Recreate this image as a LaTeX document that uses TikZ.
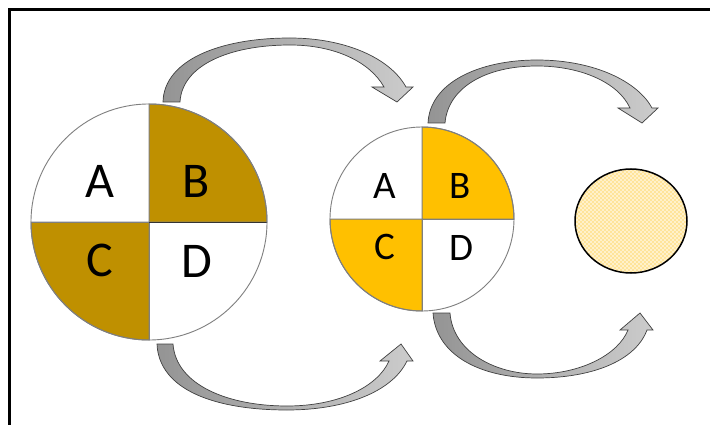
\documentclass[tikz,border=0pt]{standalone}
\usepackage{fontspec}
\setmainfont{Carlito}
\usetikzlibrary{shapes.geometric,patterns}
\definecolor{darkgold}{HTML}{BF9000}
\definecolor{gold}{HTML}{FFC000}
\definecolor{paleyel}{HTML}{FFE49A}
\definecolor{edgegray}{HTML}{7F7F7F}
\pgfdeclarepatternformonly{checkdots}{\pgfqpoint{-1pt}{-1pt}}{\pgfqpoint{5pt}{5pt}}{\pgfqpoint{4pt}{4pt}}{%
  \pgfpathcircle{\pgfqpoint{1pt}{1pt}}{0.95pt}%
  \pgfpathcircle{\pgfqpoint{3pt}{3pt}}{0.95pt}%
  \pgfusepath{fill}%
}
\tikzset{
  quad/.style={draw=edgegray, line width=1pt},
  blockarrow/.style={draw=black!75, line width=0.7pt, left color=black!42, right color=black!20},
  biglabel/.style={font=\fontsize{50}{50}\selectfont, inner sep=0pt},
  midlabel/.style={font=\fontsize{39}{39}\selectfont, inner sep=0pt},
  ringnode/.style={circle, draw=edgegray, line width=0.9pt, inner sep=0pt},
}
\begin{document}
\begin{tikzpicture}[x=1pt,y=-1pt]
\useasboundingbox (0,0) rectangle (710,425);
% frame
\draw[line width=2.2pt] (9.5,430) -- (9.5,9.5) -- (720,9.5);

% big circle quadrants
\coordinate (bc) at (149,222);
\fill[white] (bc) circle [radius=118];
\filldraw[quad, fill=darkgold] (bc) -- ++(118,0) arc[start angle=0, end angle=-90, radius=118] -- cycle;
\filldraw[quad, fill=darkgold] (bc) -- ++(-118,0) arc[start angle=180, end angle=90, radius=118] -- cycle;
\draw[quad] (bc) -- ++(-118,0) (bc) -- ++(0,118);
\draw[draw=black!80, line width=1pt] (bc) -- ++(118,0);
\node[ringnode, minimum size=236pt] (big) at (bc) {};
\node[biglabel] (bA) at (100,181) {A};
\node[biglabel] (bB) at (196,181) {B};
\node[biglabel] (bC) at (100,260) {C};
\node[biglabel] (bD) at (197,261) {D};

% medium circle quadrants
\coordinate (mc) at (422,219);
\fill[white] (mc) circle [radius=92];
\filldraw[quad, fill=gold] (mc) -- ++(92,0) arc[start angle=0, end angle=-90, radius=92] -- cycle;
\filldraw[quad, fill=gold] (mc) -- ++(-92,0) arc[start angle=180, end angle=90, radius=92] -- cycle;
\draw[quad] (mc) -- ++(92,0) (mc) -- ++(0,92);
\node[ringnode, minimum size=184pt] (mid) at (mc) {};
\node[midlabel] (mA) at (385,186) {A};
\node[midlabel] (mB) at (460,186) {B};
\node[midlabel] (mC) at (385,247) {C};
\node[midlabel] (mD) at (461,248) {D};

% small patterned ellipse
\node[ellipse, draw=black, line width=1.5pt, minimum width=112pt, minimum height=104pt, inner sep=0pt,
      preaction={fill=paleyel}, preaction={pattern=checkdots, pattern color=white}] (small) at (631,221) {};

% arrow 1: big -> mid (top)
\path[blockarrow] (163,102) .. controls (164,60) and (220,38) .. (290,38)
   .. controls (345,38) and (390,58) .. (406,87) -- (413,87) -- (397,102) -- (372,87) -- (384,87)
   .. controls (370,62) and (335,45) .. (290,45)
   .. controls (230,45) and (182,65) .. (180,102) -- cycle;
% arrow 2: big -> mid (bottom)
\path[blockarrow] (157,344) -- (173,344) .. controls (176,385) and (228,406) .. (287,406)
   .. controls (340,406) and (378,386) .. (389,361) -- (380,361) -- (401,344) -- (413,361) -- (407,361)
   .. controls (392,392) and (345,410) .. (287,410)
   .. controls (215,410) and (159,390) .. (157,344) -- cycle;
% arrow 3: mid -> small (top)
\path[blockarrow] (428,123) .. controls (430,82) and (480,60) .. (537,60)
   .. controls (595,60) and (638,82) .. (652,108) -- (658,108) -- (642,123) -- (618,108) -- (630,108)
   .. controls (618,82) and (580,66) .. (537,66)
   .. controls (485,66) and (448,88) .. (445,123) -- cycle;
% arrow 4: mid -> small (bottom)
\path[blockarrow] (433,313) -- (450,313) .. controls (453,352) and (495,374) .. (537,374)
   .. controls (580,374) and (618,355) .. (628,330) -- (620,330) -- (640,313) -- (653,330) -- (647,330)
   .. controls (635,362) and (590,378) .. (537,378)
   .. controls (480,378) and (436,355) .. (433,313) -- cycle;
\end{tikzpicture}
\end{document}
